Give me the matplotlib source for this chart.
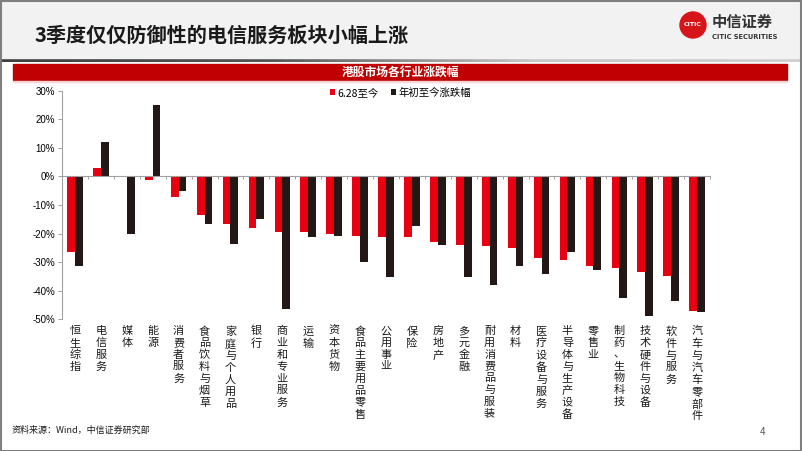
import numpy as np
import matplotlib
matplotlib.use('Agg')
import matplotlib.pyplot as plt
from matplotlib.patches import Rectangle, Circle
from matplotlib.colors import LinearSegmentedColormap
import matplotlib.transforms as mtransforms

plt.rcParams['font.family'] = ['Noto Sans CJK SC', 'DejaVu Sans']
plt.rcParams['axes.unicode_minus'] = False

# data
industries = ['恒生综指', '电信服务', '媒体', '能源', '消费者服务', '食品饮料与烟草',
              '家庭与个人用品', '银行', '商业和专业服务', '运输', '资本货物',
              '食品主要用品零售', '公用事业', '保险', '房地产', '多元金融',
              '耐用消费品与服装', '材料', '医疗设备与服务', '半导体与生产设备',
              '零售业', '制药、生物科技', '技术硬件与设备', '软件与服务', '汽车与汽车零部件']
since_628 = [-26.6, 3.0, -0.2, -1.2, -7.2, -13.4, -16.8, -18.2, -19.3, -19.5, -20.3,
             -20.9, -21.2, -21.2, -22.9, -24.0, -24.3, -25.2, -28.6, -29.1,
             -31.5, -32.0, -33.5, -34.7, -47.0]
ytd = [-31.2, 12.2, -20.0, 24.9, -5.1, -16.6, -23.5, -14.8, -46.3, -21.2, -20.8,
       -30.1, -35.2, -17.5, -23.9, -35.1, -37.9, -31.3, -34.1, -26.6,
       -32.6, -42.7, -48.8, -43.6, -47.3]
series_names = ['6.28至今', '年初至今涨跌幅']
yticks = [30, 20, 10, 0, -10, -20, -30, -40, -50]

W, H = 802, 451
fig = plt.figure(figsize=(W / 100, H / 100), dpi=100)

# header band
fig.patches.append(Rectangle((0, 1 - 58 / H), 1, 58 / H, transform=fig.transFigure,
                             color='#f2f2f2', zorder=0))
gax = fig.add_axes([0, 1 - 62 / H, 1, 4 / H])
cmap = LinearSegmentedColormap.from_list('g', ['#3f3f3f', '#555555', '#c8c8c8', '#d0d0d0'])
gax.imshow(np.linspace(0, 1, 256)[None, :], cmap=cmap, aspect='auto')
gax.axis('off')

fig.text(35 / W, 1 - 35 / H, '3季度仅仅防御性的电信服务板块小幅上涨', fontsize=14.5,
         fontweight='bold', va='center', ha='left', color='#1a1a1a')

# logo
lx, ly = 693 / W, 1 - 25 / H
fig.patches.append(Circle((693, H - 25), 13, transform=None, color='#d7141a', zorder=3))
fig.text(lx, ly, 'CITIC', fontsize=4.5, color='white', fontweight='bold',
         ha='center', va='center', family='DejaVu Sans')
fig.text(712 / W, 1 - 22 / H, '中信证券', fontsize=11, fontweight='bold',
         color='#333333', ha='left', va='center')
fig.text(712 / W, 1 - 37 / H, 'CITIC SECURITIES', fontsize=4.8, fontweight='bold',
         color='#333333', ha='left', va='center', family='DejaVu Sans')

# red section bar
fig.patches.append(Rectangle((13 / W, 1 - 80 / H), 774 / W, 16 / H, transform=fig.transFigure,
                             color='#c00000', zorder=1))
fig.patches.append(Rectangle((13 / W, 1 - 82 / H), 774 / W, 1.5 / H, transform=fig.transFigure,
                             color='#f6d5d5', zorder=1))
fig.text(400 / W, 1 - 72 / H, '港股市场各行业涨跌幅', fontsize=8.5, fontweight='bold',
         color='white', ha='center', va='center')

# chart
ax = fig.add_axes([62 / W, 1 - 319.3 / H, (710 - 62) / W, (319.3 - 90.7) / H])
x = np.arange(len(industries))
bw = 0.3
ax.bar(x - bw / 2, since_628, bw, color='#e60012', label=series_names[0])
ax.bar(x + bw / 2, ytd, bw, color='#231815', label=series_names[1])

ax.set_xlim(-0.5, len(industries) - 0.5)
ax.set_ylim(-50, 30)
ax.set_yticks(yticks)
ax.set_yticklabels([f'{v}%' for v in yticks], fontsize=7, family='Liberation Sans')
for s in ['top', 'right']:
    ax.spines[s].set_visible(False)
ax.spines['bottom'].set_position(('data', 0))
for s in ['left', 'bottom']:
    ax.spines[s].set_color('#a0a0a0')
    ax.spines[s].set_linewidth(0.8)
ax.set_xticks(np.arange(-0.5, len(industries), 1.0))
ax.set_xticklabels([])
ax.tick_params(axis='x', direction='out', length=2.5, color='#a0a0a0', width=0.7)
ax.tick_params(axis='y', direction='out', length=3, color='#a0a0a0', width=0.7, pad=2)

trans = mtransforms.blended_transform_factory(ax.transData, ax.transAxes)
for i, name in enumerate(industries):
    ax.text(i, -0.03, '\n'.join(name), transform=trans, ha='center', va='top',
            fontsize=8, linespacing=1.22, color='#1a1a1a')

handles, labels = ax.get_legend_handles_labels()
fig.legend(handles, labels, loc='center left', bbox_to_anchor=(330 / W, 1 - 93 / H),
           ncol=2, frameon=False, fontsize=7.5, handlelength=0.5, handleheight=0.5,
           handletextpad=0.2, columnspacing=1.2, borderaxespad=0, borderpad=0)

# footer
fig.text(12 / W, 1 - 430 / H, '资料来源：Wind，中信证券研究部', fontsize=6.5,
         ha='left', va='center', color='#1a1a1a')
fig.text(763 / W, 1 - 432 / H, '4', fontsize=7, ha='center', va='center', color='#595959')

# slide frame
fig.patches.append(Rectangle((0.5, 0.5), W - 1.5, H - 1.5, transform=None, fill=False,
                             edgecolor='#7f7f7f', linewidth=1.5, zorder=5))

fig.savefig('out.png', dpi=100)
